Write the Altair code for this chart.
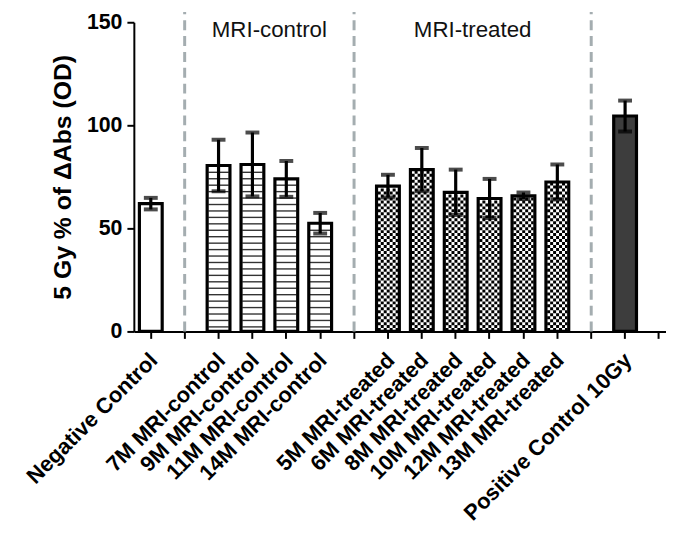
import altair as alt
import pandas as pd
import numpy as np

# ---- data ----
slots = ["Negative Control", "gap1", "7M MRI-control", "9M MRI-control",
         "11M MRI-control", "14M MRI-control", "gap2", "5M MRI-treated",
         "6M MRI-treated", "8M MRI-treated", "10M MRI-treated",
         "12M MRI-treated", "13M MRI-treated", "gap3",
         "Positive Control 10Gy", "gap4"]
bar_names = ["Negative Control", "7M MRI-control", "9M MRI-control",
             "11M MRI-control", "14M MRI-control", "5M MRI-treated",
             "6M MRI-treated", "8M MRI-treated", "10M MRI-treated",
             "12M MRI-treated", "13M MRI-treated", "Positive Control 10Gy"]
means = [62.0, 80.5, 81.0, 74.0, 52.5, 70.5, 78.5, 67.5, 64.5, 65.8, 72.5, 104.5]
errors = [2.8, 12.5, 15.5, 8.7, 5.0, 5.5, 10.5, 11.0, 9.5, 1.6, 8.5, 7.5]
groups = ["neg", "control", "control", "control", "control", "treated",
          "treated", "treated", "treated", "treated", "treated", "pos"]
separators = ["gap1", "gap2", "gap3"]
group_titles = ["MRI-control", "MRI-treated"]
group_title_after = ["9M MRI-control", "8M MRI-treated"]
y_ticks = [0, 50, 100, 150]

FONT = "Liberation Sans"

bars = pd.DataFrame({"cat": bar_names, "mean": means, "err": errors, "group": groups})
bars["lo"] = bars["mean"] - bars["err"]
bars["hi"] = bars["mean"] + bars["err"]

# hatch pattern rows (horizontal stripes for control, checkerboard for treated)
stripe_rows, check_rows = [], []
for n, m, g in zip(bar_names, means, groups):
    if g == "control":
        for lv in np.arange(2.2, m - 1.2, 3.125):
            stripe_rows.append({"cat": n, "lv": lv})
    elif g == "treated":
        for i, lv in enumerate(np.arange(0.9, m - 0.9, 1.44)):
            check_rows.append({"cat": n, "lv": lv, "odd": i % 2})
stripes = pd.DataFrame(stripe_rows)
checks = pd.DataFrame(check_rows)

seps = pd.DataFrame({"cat": separators, "y0": [0] * 3, "y1": [155] * 3})
titles = pd.DataFrame({"cat": group_title_after, "t": group_titles, "ty": [146, 146]})

xscale = alt.Scale(domain=slots, range=[0, 547], paddingInner=0, paddingOuter=0)
yscale = alt.Scale(domain=[0, 150], nice=False)

xaxis = alt.Axis(
    labelExpr="indexof(datum.value, 'gap') == 0 ? '' : datum.value",
    labelAngle=-45, labelAlign="right", labelBaseline="top",
    labelFont=FONT, labelFontWeight="bold", labelFontSize=22, labelColor="black",
    labelPadding=11, labelOffset=-4, labelLimit=400, labelOverlap=False, labelBound=False,
    tickSize=7, tickWidth=2, tickColor="black",
    domainColor="black", domainWidth=2, grid=False, title=None)
yaxis = alt.Axis(
    values=y_ticks, labelFont=FONT, labelFontWeight="bold", labelFontSize=21.5,
    labelColor="black", labelPadding=5, tickSize=7, tickWidth=2, tickColor="black",
    domainColor="black", domainWidth=2, grid=False,
    title="5 Gy % of ΔAbs (OD)", titleFont=FONT, titleFontWeight="bold",
    titleFontSize=25, titleColor="black", titleAngle=-90, titleX=-72, titleY=156,
    titleAlign="center", titleBaseline="middle")


def X(bp=0.5):
    return alt.X("cat:N", scale=xscale, sort=slots, axis=xaxis, title=None, bandPosition=bp)


fill_scale = alt.Scale(domain=["neg", "control", "treated", "pos"],
                       range=["white", "white", "white", "#3d3d3d"])

bar_fill = alt.Chart(bars).mark_bar(size=23, strokeWidth=0).encode(
    x=X(), y=alt.Y("mean:Q", scale=yscale, axis=yaxis),
    fill=alt.Fill("group:N", scale=fill_scale, legend=None))

stripe_layer = alt.Chart(stripes).mark_rule(color="#333333", strokeWidth=1.4).encode(
    x=X(0.2), x2=alt.X2("cat", bandPosition=0.8),
    y=alt.Y("lv:Q", scale=yscale, axis=yaxis))

check_even = alt.Chart(checks).transform_filter("datum.odd == 0").mark_rule(
    color="black", strokeWidth=3, strokeDash=[3, 3], strokeCap="butt").encode(
    x=X(0.2), x2=alt.X2("cat", bandPosition=0.8),
    y=alt.Y("lv:Q", scale=yscale, axis=yaxis))
check_odd = alt.Chart(checks).transform_filter("datum.odd == 1").mark_rule(
    color="black", strokeWidth=3, strokeDash=[3, 3], strokeDashOffset=3, strokeCap="butt").encode(
    x=X(0.2), x2=alt.X2("cat", bandPosition=0.8),
    y=alt.Y("lv:Q", scale=yscale, axis=yaxis))

bar_outline = alt.Chart(bars).mark_bar(size=23, fillOpacity=0, stroke="black", strokeWidth=3.2).encode(
    x=X(), y=alt.Y("mean:Q", scale=yscale, axis=yaxis))

err_line = alt.Chart(bars).mark_rule(color="black", strokeWidth=3.2).encode(
    x=X(), y=alt.Y("lo:Q", scale=yscale, axis=yaxis), y2="hi:Q")
cap_hi = alt.Chart(bars).mark_tick(color="black", size=14, thickness=4, orient="horizontal").encode(
    x=X(), y=alt.Y("hi:Q", scale=yscale, axis=yaxis))
cap_lo = alt.Chart(bars).mark_tick(color="black", size=14, thickness=4, orient="horizontal").encode(
    x=X(), y=alt.Y("lo:Q", scale=yscale, axis=yaxis))

sep_layer = alt.Chart(seps).mark_rule(color="#a4adb0", strokeWidth=3, strokeDash=[10, 6]).encode(
    x=X(), y=alt.Y("y0:Q", scale=yscale, axis=yaxis), y2="y1:Q")

title_layer = alt.Chart(titles).mark_text(font=FONT, fontSize=22.5, color="#111111",
                                          baseline="middle", align="center").encode(
    x=X(1.0), y=alt.Y("ty:Q", scale=yscale, axis=yaxis), text="t:N")

chart = alt.layer(sep_layer, bar_fill, stripe_layer, check_even, check_odd, bar_outline,
                  err_line, cap_hi, cap_lo, title_layer).properties(
    width=530, height=312,
    autosize=alt.AutoSizeParams(type="none"),
    padding={"left": 127, "top": 12, "right": 7, "bottom": 198},
    background="white",
).configure_view(stroke=None)

chart.save("out.html", embed_options={"renderer": "svg", "actions": False})
